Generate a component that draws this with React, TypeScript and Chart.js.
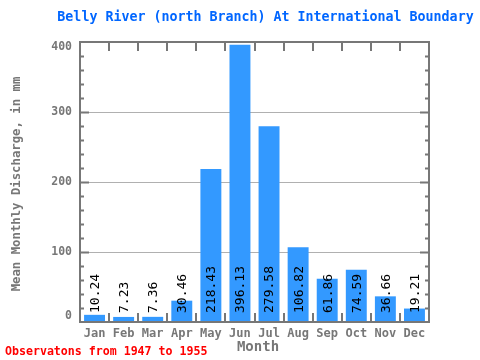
import React, { useEffect, useRef } from "react";
import { Chart, registerables } from "chart.js";

Chart.register(...registerables);

const months = ["Jan", "Feb", "Mar", "Apr", "May", "Jun", "Jul", "Aug", "Sep", "Oct", "Nov", "Dec"];
const discharge = [10.24, 7.23, 7.36, 30.46, 218.43, 396.13, 279.58, 106.82, 61.86, 74.59, 36.66, 19.21];
const yTicks = [0, 100, 200, 300, 400];

const titleText = "Belly River (north Branch) At International Boundary";
const yTitle = "Mean Monthly Discharge, in mm";
const xTitle = "Month";
const footer = "Observatons from 1947 to 1955";

const MONO = "'DejaVu Sans Mono', 'Liberation Mono', monospace";
const GRAY = "#777777";

export default function App() {
  const ref = useRef<HTMLCanvasElement>(null);

  useEffect(() => {
    if (!ref.current) return;
    const decor = {
      id: "decor",
      afterDatasetsDraw(chart: any) {
        const ctx = chart.ctx;
        const { left, right, top, bottom } = chart.chartArea;
        const y = chart.scales.y;
        // value labels
        const meta = chart.getDatasetMeta(0);
        ctx.save();
        ctx.fillStyle = "#000";
        ctx.font = `13px ${MONO}`;
        meta.data.forEach((bar: any, i: number) => {
          ctx.save();
          ctx.translate(bar.x, bottom - 9);
          ctx.rotate(-Math.PI / 2);
          ctx.textAlign = "left";
          ctx.textBaseline = "middle";
          ctx.fillText(discharge[i].toFixed(2), 0, 1);
          ctx.restore();
        });
        ctx.restore();

        // frame
        ctx.save();
        ctx.strokeStyle = GRAY;
        ctx.lineWidth = 2;
        ctx.strokeRect(left, top, right - left, bottom - top);
        for (let v = 20; v < 400; v += 20) {
          const py = Math.round(y.getPixelForValue(v)) + 0.5;
          const len = v % 100 === 0 ? 9 : 4;
          ctx.beginPath();
          ctx.moveTo(left, py);
          ctx.lineTo(left + len, py);
          ctx.moveTo(right, py);
          ctx.lineTo(right - len, py);
          ctx.stroke();
        }
        const n = months.length;
        const w = (right - left) / n;
        for (let k = 1; k < n; k++) {
          const px = Math.round(left + k * w);
          ctx.beginPath();
          ctx.moveTo(px, top);
          ctx.lineTo(px, top + 9);
          ctx.moveTo(px, bottom);
          ctx.lineTo(px, bottom - 9);
          ctx.stroke();
        }
        ctx.restore();

        // y tick labels (edge labels pulled inward)
        ctx.save();
        ctx.fillStyle = GRAY;
        ctx.font = `bold 11.5px ${MONO}`;
        ctx.textAlign = "right";
        ctx.textBaseline = "middle";
        yTicks.forEach((v, i) => {
          let py = y.getPixelForValue(v);
          if (i === 0) py -= 6;
          if (i === yTicks.length - 1) py += 5;
          ctx.fillText(String(v), left - 8, py);
        });
        ctx.restore();

        // texts
        ctx.save();
        ctx.fillStyle = "#0066ff";
        ctx.font = `bold 13.3px ${MONO}`;
        ctx.textAlign = "center";
        ctx.textBaseline = "middle";
        ctx.fillText(titleText, 265.5, 18);

        ctx.fillStyle = GRAY;
        ctx.font = `bold 14px ${MONO}`;
        ctx.fillText(xTitle, 258, 347);

        ctx.save();
        ctx.translate(17, 184);
        ctx.rotate(-Math.PI / 2);
        ctx.font = `bold 12.3px ${MONO}`;
        ctx.fillText(yTitle, 0, 0);
        ctx.restore();

        ctx.fillStyle = "#ff0000";
        ctx.font = `bold 11.6px ${MONO}`;
        ctx.textAlign = "left";
        ctx.fillText(footer, 5, 352);
        ctx.restore();
      },
    };

    const chart = new Chart(ref.current, {
      type: "bar",
      data: {
        labels: months,
        datasets: [
          {
            data: discharge,
            backgroundColor: "#3399ff",
            borderWidth: 0,
            barPercentage: 0.72,
            categoryPercentage: 1,
          },
        ],
      },
      options: {
        responsive: false,
        animation: false,
        layout: { padding: { left: 0, top: 42, right: 51, bottom: 0 } },
        plugins: { legend: { display: false }, tooltip: { enabled: false }, title: { display: false } },
        scales: {
          x: {
            grid: { display: false, drawTicks: false },
            border: { display: false },
            ticks: { color: GRAY, font: { family: MONO, size: 12, weight: "bold" }, padding: 5, maxRotation: 0 },
            afterFit(scale: any) {
              scale.height = 38;
            },
          },
          y: {
            min: 0,
            max: 400,
            afterBuildTicks(scale: any) {
              scale.ticks = yTicks.map((v) => ({ value: v }));
            },
            grid: {
              drawTicks: false,
              color: (c: any) => (c.tick && (c.tick.value === 0 || c.tick.value === 400) ? "rgba(0,0,0,0)" : "#b0b0b0"),
              lineWidth: 1,
            },
            border: { display: false },
            ticks: { display: false },
            afterFit(scale: any) {
              scale.width = 80;
            },
          },
        },
      },
      plugins: [decor],
    });
    return () => chart.destroy();
  }, []);

  return (
    <div style={{ position: "absolute", left: 0, top: 0, width: 480, height: 360, background: "#fff" }}>
      <canvas ref={ref} width={480} height={360} />
    </div>
  );
}
